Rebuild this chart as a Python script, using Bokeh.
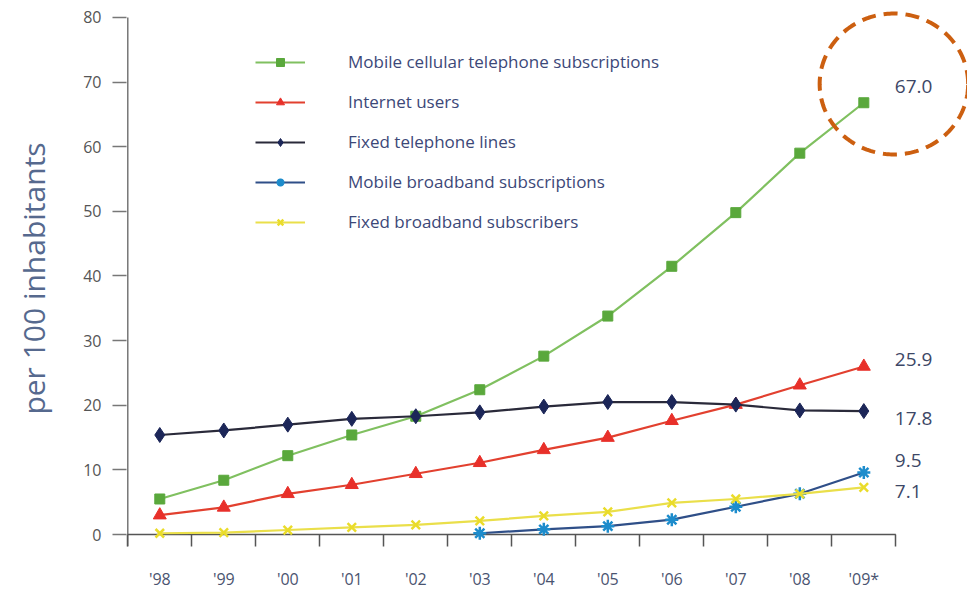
import numpy as np
from bokeh.plotting import figure
from bokeh.models import Range1d, FixedTicker, Legend, LegendItem, Label, PolyAnnotation
from bokeh.embed import file_html
from bokeh.resources import INLINE

years = ["'98", "'99", "'00", "'01", "'02", "'03", "'04", "'05", "'06", "'07", "'08", "'09*"]
mobile_cellular = [5.5, 8.4, 12.2, 15.4, 18.3, 22.4, 27.6, 33.8, 41.5, 49.8, 59.0, 66.8]
internet_users = [3.0, 4.2, 6.3, 7.7, 9.4, 11.1, 13.1, 15.0, 17.6, 20.1, 23.1, 26.0]
fixed_lines = [15.4, 16.1, 17.0, 17.9, 18.3, 18.9, 19.8, 20.5, 20.5, 20.1, 19.2, 19.1]
mobile_broadband = [None, None, None, None, None, 0.2, 0.8, 1.3, 2.3, 4.3, 6.3, 9.6]
fixed_broadband = [0.2, 0.3, 0.7, 1.1, 1.5, 2.1, 2.9, 3.5, 4.9, 5.5, 6.3, 7.3]
series_names = ["Mobile cellular telephone subscriptions", "Internet users",
                "Fixed telephone lines", "Mobile broadband subscriptions",
                "Fixed broadband subscribers"]
end_labels = ["67.0", "25.9", "17.8", "9.5", "7.1"]
y_ticks = [0, 10, 20, 30, 40, 50, 60, 70, 80]

FONT = "Open Sans"
x = list(range(len(years)))
x_lo, x_hi = -0.5, len(years) - 0.5
y_lo, y_hi = 0, 80

p = figure(width=967, height=592, output_backend="svg", toolbar_location=None,
           x_range=Range1d(-0.52, 12.62), y_range=Range1d(-1.85, 81.07),
           min_border_left=126, min_border_right=0, min_border_top=10, min_border_bottom=42)
p.outline_line_color = None
p.xgrid.visible = False
p.ygrid.visible = False
p.background_fill_color = "white"
p.border_fill_color = "white"

# x axis
xa = p.xaxis[0]
xa.ticker = FixedTicker(ticks=x, minor_ticks=[i - 0.5 for i in range(len(years) + 1)])
xa.major_label_overrides = {i: years[i] for i in x}
xa.axis_line_color = None
xa.major_tick_line_color = None
xa.minor_tick_line_color = "#555555"
xa.minor_tick_line_width = 1.5
xa.minor_tick_in = 12
xa.minor_tick_out = 0
xa.major_label_standoff = 15
xa.major_label_text_font = FONT
xa.major_label_text_font_size = "16px"
xa.major_label_text_color = "#4a5470"

# y axis
ya = p.yaxis[0]
ya.ticker = FixedTicker(ticks=y_ticks, minor_ticks=[])
ya.axis_line_color = None
ya.major_tick_line_color = "#777777"
ya.major_tick_line_width = 1.5
ya.major_tick_in = 0
ya.major_tick_out = 14
ya.minor_tick_line_color = None
ya.major_label_standoff = 11
ya.major_label_text_font = FONT
ya.major_label_text_font_size = "16px"
ya.major_label_text_color = "#555555"
ya.axis_label = "per 100 inhabitants"
ya.axis_label_text_font = FONT
ya.axis_label_text_font_size = "30px"
ya.axis_label_text_font_style = "normal"
ya.axis_label_text_color = "#56698e"
ya.axis_label_standoff = 26

# axis lines drawn in data space so they stop at the ends of the scales
p.segment(x0=[x_lo], y0=[-1.85], x1=[x_lo], y1=[y_hi], line_color="#777777", line_width=1.5)
p.segment(x0=[x_lo], y0=[y_lo], x1=[x_hi], y1=[y_lo], line_color="#555555", line_width=1.5)

specs = [
    (mobile_cellular, "#80c060", "#5aa83c", "square", 10),
    (internet_users, "#e2402f", "#e8302a", "triangle", 13),
    (fixed_lines, "#2a2a3a", "#1c2658", "diamond", 15),
    (mobile_broadband, "#2f4f88", "#1d8ccc", "asterisk", 13),
    (fixed_broadband, "#eadf4a", "#eadc2a", "x", 12),
]
items = []
for (vals, lc, mc, mk, sz), name in zip(specs, series_names):
    xs = [xi for xi, v in zip(x, vals) if v is not None]
    ys = [v for v in vals if v is not None]
    r1 = p.line(xs, ys, line_color=lc, line_width=2.2)
    if mk in ("asterisk", "x"):
        r2 = p.scatter(xs, ys, marker=mk, size=sz, line_color=mc, line_width=2.5)
    else:
        r2 = p.scatter(xs, ys, marker=mk, size=sz, fill_color=mc, line_color=mc)
    items.append(LegendItem(label=name, renderers=[r1, r2]))

legend = Legend(items=items, location=(129, 313), padding=0, margin=0,
                border_line_color=None, background_fill_alpha=0,
                glyph_width=50, glyph_height=20, label_height=20, spacing=17,
                label_standoff=43, label_text_font=FONT, label_text_font_size="17px",
                label_text_color="#3c4878")
p.add_layout(legend)

last_vals = [mobile_cellular[-1], internet_users[-1], fixed_lines[-1],
             mobile_broadband[-1], fixed_broadband[-1]]
offsets = [16, 7, -7, 12, -4]
for txt, v, off in zip(end_labels, last_vals, offsets):
    p.add_layout(Label(x=x[-1], y=v, x_offset=31, y_offset=off, text=txt,
                       text_baseline="middle", text_font=FONT, text_font_size="19px",
                       text_color="#3d4766"))

# dashed highlight circle around the 67.0 label
t = np.linspace(0, 2 * np.pi, 240)
cx, cy, rx, ry = 11.47, 69.7, 1.16, 10.9
p.add_layout(PolyAnnotation(xs=list(cx + rx * np.cos(t)), ys=list(cy + ry * np.sin(t)),
                            fill_alpha=0, line_color="#cc5f10", line_alpha=1.0,
                            line_width=4, line_dash="14 8"))

open("out.html", "w").write(file_html(p, INLINE))
